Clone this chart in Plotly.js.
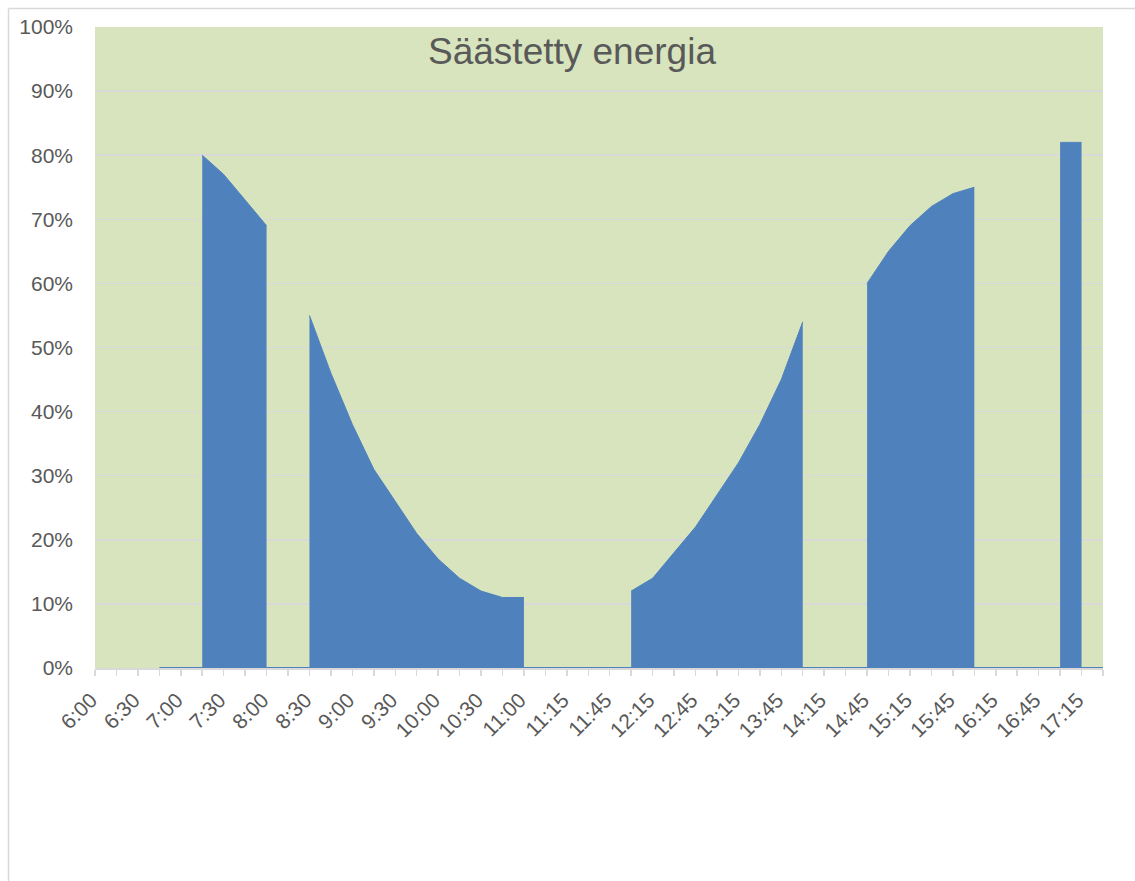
<!DOCTYPE html>
<html>
<head>
<meta charset="utf-8">
<script src="https://cdn.plot.ly/plotly-3.0.1.min.js"></script>
<style>
  html, body { margin: 0; padding: 0; background: #ffffff; }
  #chart { width: 1135px; height: 881px; }
</style>
</head>
<body>
<div id="chart"></div>
<script>
// Category labels (one per data point, 15-minute steps)
var times = ['6:00','6:15','6:30','6:45','7:00','7:15','7:30','7:45','8:00','8:15',
             '8:30','8:45','9:00','9:15','9:30','9:45','10:00','10:15','10:30','10:45',
             '11:00','11:07','11:15','11:30','11:45','12:00','12:15','12:30','12:45','13:00',
             '13:15','13:30','13:45','14:00','14:15','14:30','14:45','15:00','15:15','15:30',
             '15:45','16:00','16:15','16:30','16:45','17:00','17:15','17:30'];

// Saved energy share (fraction), null = empty cell
var savedEnergy = [null, null, null, 0, 0, 0.80, 0.77, 0.73, 0.69, 0,
                   0.55, 0.46, 0.38, 0.31, 0.26, 0.21, 0.17, 0.14, 0.12, 0.11,
                   0.11, 0, 0, 0, 0, 0.12, 0.14, 0.18, 0.22, 0.27,
                   0.32, 0.38, 0.45, 0.54, 0, 0, 0.60, 0.65, 0.69, 0.72,
                   0.74, 0.75, 0, 0, 0, 0.82, 0.82, 0];

var titleText = 'Säästetty energia';
var blue = '#4F81BD';

var idx = times.map(function (t, i) { return i; });
var tickText = times.map(function (t, i) { return i % 2 === 0 ? t : ''; });

var traces = [];

// split into contiguous positive runs; each filled straight down to zero
var run = null;
for (var i = 0; i <= savedEnergy.length; i++) {
  var v = i < savedEnergy.length ? savedEnergy[i] : null;
  if (v !== null && v > 0) {
    if (!run) run = { x: [], y: [] };
    run.x.push(idx[i]); run.y.push(v);
  } else if (run) {
    traces.push({
      type: 'scatter', mode: 'lines',
      x: run.x, y: run.y,
      fill: 'tozeroy', fillcolor: blue,
      line: { color: blue, width: 1 },
      showlegend: false
    });
    run = null;
  }
}

// baseline line where a value exists
traces.push({
  type: 'scatter', mode: 'lines',
  x: idx,
  y: savedEnergy.map(function (v) { return v === null ? null : 0; }),
  line: { color: blue, width: 2 },
  hoverinfo: 'skip', showlegend: false, cliponaxis: false
});

var L = 95, R = 32, T = 27, B = 213, W = 1135, H = 881;
var pw = W - L - R, ph = H - T - B;
function px2x(p) { return (p - L) / pw; }
function py2y(p) { return (H - B - p) / ph; }

var layout = {
  width: W, height: H,
  margin: { l: L, r: R, t: T, b: B, pad: 0 },
  paper_bgcolor: '#ffffff',
  plot_bgcolor: '#D7E4BD',
  font: { family: 'Liberation Sans, Arial, sans-serif', color: '#595959' },
  title: {
    text: titleText,
    font: { family: 'Liberation Sans, Arial, sans-serif', size: 37, color: '#595959' },
    xref: 'container', yref: 'container',
    x: 572 / W, y: 1 - 51 / H,
    xanchor: 'center', yanchor: 'middle'
  },
  xaxis: {
    range: [0, times.length - 1],
    tickmode: 'array', tickvals: idx, ticktext: tickText,
    tickangle: -45,
    tickfont: { size: 21, color: '#595959' },
    ticks: 'outside', ticklen: 6, tickcolor: '#D9D9D9', tickwidth: 1.5,
    ticklabelstandoff: 4, ticklabelshift: -4,
    showline: true, linecolor: '#D9D9D9', linewidth: 1.5,
    layer: 'below traces',
    showgrid: false, zeroline: false, fixedrange: true
  },
  yaxis: {
    range: [0, 1], dtick: 0.1, tick0: 0,
    tickformat: '.0%',
    tickfont: { size: 21, color: '#595959' },
    ticks: '', ticklabelstandoff: 21,
    showgrid: true, gridcolor: '#D9D9D9', gridwidth: 1.5,
    showline: false, zeroline: false, fixedrange: true
  },
  shapes: [
    { type: 'line', xref: 'paper', yref: 'paper',
      x0: px2x(8.5), x1: px2x(8.5), y0: py2y(H + 2), y1: py2y(8.5),
      line: { color: '#D9D9D9', width: 1.5 } },
    { type: 'line', xref: 'paper', yref: 'paper',
      x0: px2x(8.5), x1: px2x(W + 2), y0: py2y(8.5), y1: py2y(8.5),
      line: { color: '#D9D9D9', width: 1.5 } }
  ],
  showlegend: false
};

Plotly.newPlot('chart', traces, layout, { displayModeBar: false, staticPlot: true });
</script>
</body>
</html>
